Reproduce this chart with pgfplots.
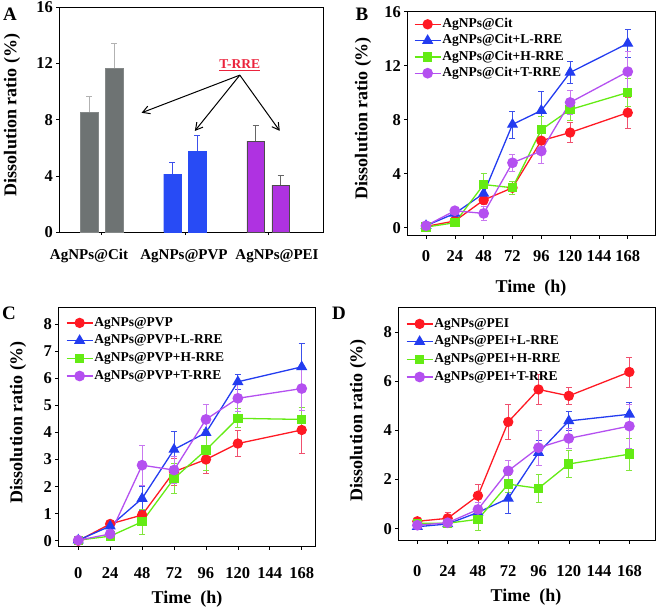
\documentclass[border=0pt]{standalone}
\usepackage{fontspec}
\setmainfont{Liberation Serif}
\usepackage{pgfplots}
\pgfplotsset{compat=1.18}
\usetikzlibrary{arrows.meta}

\newcommand\tfont{\fontsize{16.5}{16.5}\selectfont\bfseries}
\newcommand\cfont{\fontsize{15}{15}\selectfont\bfseries}
\newcommand\lfont{\fontsize{18}{18}\selectfont\bfseries}
\newcommand\gfont{\fontsize{13.5}{13.5}\selectfont\bfseries}
\newcommand\pfont{\fontsize{19}{19}\selectfont\bfseries}

\definecolor{cR}{RGB}{255,25,35}
\definecolor{cB}{RGB}{35,60,240}
\definecolor{cG}{RGB}{100,235,20}
\definecolor{cP}{RGB}{180,80,240}
\definecolor{eR}{RGB}{240,80,110}
\definecolor{eB}{RGB}{60,80,235}
\definecolor{eG}{RGB}{130,230,60}
\definecolor{eP}{RGB}{200,120,240}
\definecolor{barGray}{RGB}{110,115,115}
\definecolor{barBlue}{RGB}{40,75,245}
\definecolor{barMag}{RGB}{175,50,225}
\definecolor{rreRed}{RGB}{235,35,60}

\pgfplotsset{
  panel/.style={scale only axis, axis line style={line width=0.9pt},
    tick align=outside, xtick pos=bottom, ytick pos=left,
    major tick length=3pt, tick style={black, line width=0.6pt},
    ticklabel style={font=\tfont},
    /pgf/number format/assume math mode=true,
    xticklabel style={yshift=-8pt},
    legend cell align=left,
    legend style={draw=none, fill=none, font=\gfont, inner sep=0pt,
      row sep=1.5pt, nodes={inner sep=1pt, text height=9.5pt, text depth=3.3pt}},
    legend image code/.code={\draw[mark repeat=2,mark phase=2,##1] plot coordinates {(0pt,0pt) (13pt,0pt) (26pt,0pt)};},
  },
  timeax/.style={xmin=-15.5, xtick={0,24,48,72,96,120,144,168}},
  eb/.style={error bars/.cd, y dir=both, y explicit,
    error bar style={line width=0.8pt, #1},
    error mark options={rotate=90, mark size=3pt, line width=0.8pt, #1}},
  sR/.style={cR, line width=1.3pt, mark=*, mark size=4.5pt, mark options={solid, fill=cR}, eb=eR},
  sB/.style={cB, line width=1.3pt, mark=triangle*, mark size=5.2pt, mark options={solid, fill=cB}, eb=eB},
  sG/.style={cG, line width=1.3pt, mark=square*, mark size=4pt, mark options={solid, fill=cG}, eb=eG},
  sP/.style={cP, line width=1.3pt, mark=*, mark size=4.7pt, mark options={solid, fill=cP}, eb=eP},
}

\begin{document}
\begin{tikzpicture}
\useasboundingbox (0pt,0pt) rectangle (661pt,-614pt);

% ---------------- Panel A ----------------
\begin{axis}[panel, at={(59.3pt,-7.3pt)}, anchor=north west,
  width=263.7pt, height=224.7pt,
  xmin=-0.51, xmax=2.66, ymin=0, ymax=16,
  ytick={0,4,8,12,16}, xtick={0,1,2},
  xticklabels={},
  ybar, bar width=0.21, bar shift=0pt, clip=false]
\addplot[fill=barGray, draw=barGray!85!white, error bars/.cd, y dir=plus, y explicit,
  error bar style={line width=0.8pt, gray!60}, error mark options={rotate=90, mark size=3pt, line width=0.8pt, gray!60}]
  coordinates {(-0.15,8.53) +- (0,1.14) (0.15,11.66) +- (0,1.78)};
\addplot[fill=barBlue, draw=barBlue, error bars/.cd, y dir=plus, y explicit,
  error bar style={line width=0.8pt, eB}, error mark options={rotate=90, mark size=3pt, line width=0.8pt, eB}]
  coordinates {(0.85,4.12) +- (0,0.81) (1.15,5.74) +- (0,1.13)};
\addplot[fill=barMag, draw=black!70, error bars/.cd, y dir=plus, y explicit,
  error bar style={line width=0.8pt, black!60}, error mark options={rotate=90, mark size=3pt, line width=0.8pt, black!60}]
  coordinates {(1.85,6.47) +- (0,1.12) (2.15,3.34) +- (0,0.69)};
\node[text=rreRed, font=\gfont] at (axis cs:1.66,11.9) {\underline{T-RRE}};
\draw[-{Straight Barb[length=7pt,width=8pt]}, line width=1pt] (axis cs:1.66,11.17) -- (axis cs:0.48,8.49);
\draw[-{Straight Barb[length=7pt,width=8pt]}, line width=1pt] (axis cs:1.66,11.17) -- (axis cs:1.12,7.2);
\draw[-{Straight Barb[length=7pt,width=8pt]}, line width=1pt] (axis cs:1.66,11.17) -- (axis cs:2.14,7.2);
\end{axis}
\node[font=\cfont] at (89pt,-256pt) {AgNPs@Cit};
\node[font=\cfont] at (184pt,-256pt) {AgNPs@PVP};
\node[font=\cfont] at (277pt,-256pt) {AgNPs@PEI};

% ---------------- Panel B ----------------
\begin{axis}[panel, timeax, at={(407.3pt,-11.7pt)}, anchor=north west,
  width=247.7pt, height=224pt,
  xmin=-15.6, xmax=190.7, ymin=-0.59, ymax=16, ytick={0,4,8,12,16},
  legend style={at={(0,1)}, anchor=north west, xshift=6.5pt, yshift=-5pt}]
\addplot[sR] coordinates {(0,0.1) +- (0,0.15) (24,0.5) +- (0,0.15) (48,2.05) +- (0,0.3) (72,2.96) +- (0,0.5) (96,6.45) +- (0,0.5) (120,7.05) +- (0,0.75) (168,8.52) +- (0,1.15)};
\addlegendentry{AgNPs@Cit}
\addplot[sB] coordinates {(0,0.15) +- (0,0.15) (24,1.06) +- (0,0.2) (48,2.54) +- (0,0.4) (72,7.65) +- (0,1.0) (96,8.68) +- (0,1.4) (120,11.5) +- (0,0.8) (168,13.65) +- (0,1.05)};
\addlegendentry{AgNPs@Cit+L-RRE}
\addplot[sG] coordinates {(0,0.05) +- (0,0.1) (24,0.37) +- (0,0.15) (48,3.2) +- (0,0.8) (72,2.96) +- (0,0.5) (96,7.26) +- (0,1.0) (120,8.75) +- (0,0.8) (168,10.02) +- (0,1.05)};
\addlegendentry{AgNPs@Cit+H-RRE}
\addplot[sP] coordinates {(0,0.15) +- (0,0.15) (24,1.26) +- (0,0.2) (48,1.06) +- (0,0.5) (72,4.81) +- (0,0.65) (96,5.68) +- (0,0.95) (120,9.28) +- (0,0.9) (168,11.56) +- (0,1.5)};
\addlegendentry{AgNPs@Cit+T-RRE}
\end{axis}

% ---------------- Panel C ----------------
\begin{axis}[panel, timeax, at={(58.3pt,-307.3pt)}, anchor=north west,
  width=256.7pt, height=239.4pt,
  xmin=-15, xmax=178, ymin=-0.22, ymax=8.62, ytick={0,1,2,3,4,5,6,7,8},
  xticklabel style={yshift=-6pt},
  legend style={at={(0,1)}, anchor=north west, xshift=7.5pt, yshift=-8pt, row sep=2.9pt}]
\addplot[sR] coordinates {(0,0) +- (0,0.05) (24,0.62) +- (0,0.1) (48,0.95) +- (0,0.15) (72,2.55) +- (0,0.5) (96,3.0) +- (0,0.5) (120,3.59) +- (0,0.47) (168,4.09) +- (0,0.85)};
\addlegendentry{AgNPs@PVP}
\addplot[sB] coordinates {(0,0.02) +- (0,0.05) (24,0.54) +- (0,0.1) (48,1.56) +- (0,0.45) (72,3.37) +- (0,0.68) (96,3.99) +- (0,0.6) (120,5.87) +- (0,0.27) (168,6.42) +- (0,0.86)};
\addlegendentry{AgNPs@PVP+L-RRE}
\addplot[sG] coordinates {(0,0.02) +- (0,0.1) (24,0.17) +- (0,0.1) (48,0.7) +- (0,0.47) (72,2.3) +- (0,0.55) (96,3.35) +- (0,0.75) (120,4.52) +- (0,0.35) (168,4.48) +- (0,0.45)};
\addlegendentry{AgNPs@PVP+H-RRE}
\addplot[sP] coordinates {(0,0.02) +- (0,0.05) (24,0.25) +- (0,0.1) (48,2.79) +- (0,0.74) (72,2.61) +- (0,0.5) (96,4.48) +- (0,0.55) (120,5.26) +- (0,0.5) (168,5.62) +- (0,0.8)};
\addlegendentry{AgNPs@PVP+T-RRE}
\end{axis}

% ---------------- Panel D ----------------
\begin{axis}[panel, timeax, at={(398.3pt,-307.3pt)}, anchor=north west,
  width=256.7pt, height=233.4pt,
  xmin=-15.1, xmax=188.3, ymin=-0.49, ymax=9, ytick={0,2,4,6,8},
  xticklabel style={yshift=-10pt},
  legend style={at={(0,1)}, anchor=north west, xshift=7.5pt, yshift=-9pt, row sep=2.9pt}]
\addplot[sR] coordinates {(0,0.3) +- (0,0.1) (24,0.42) +- (0,0.25) (48,1.34) +- (0,0.45) (72,4.34) +- (0,0.7) (96,5.66) +- (0,0.6) (120,5.4) +- (0,0.34) (168,6.37) +- (0,0.61)};
\addlegendentry{AgNPs@PEI}
\addplot[sB] coordinates {(0,0.08) +- (0,0.1) (24,0.19) +- (0,0.1) (48,0.66) +- (0,0.3) (72,1.23) +- (0,0.6) (96,3.09) +- (0,0.5) (120,4.38) +- (0,0.4) (168,4.65) +- (0,0.5)};
\addlegendentry{AgNPs@PEI+L-RRE}
\addplot[sG] coordinates {(0,0.22) +- (0,0.1) (24,0.22) +- (0,0.1) (48,0.38) +- (0,0.45) (72,1.81) +- (0,0.35) (96,1.64) +- (0,0.57) (120,2.63) +- (0,0.55) (168,3.03) +- (0,0.65)};
\addlegendentry{AgNPs@PEI+H-RRE}
\addplot[sP] coordinates {(0,0.14) +- (0,0.1) (24,0.24) +- (0,0.1) (48,0.78) +- (0,0.3) (72,2.35) +- (0,0.42) (96,3.29) +- (0,0.7) (120,3.67) +- (0,0.4) (168,4.17) +- (0,0.9)};
\addlegendentry{AgNPs@PEI+T-RRE}
\end{axis}

% ---------------- labels ----------------
\node[font=\pfont] at (10pt,-14pt) {A};
\node[font=\pfont] at (362pt,-14pt) {B};
\node[font=\pfont] at (9pt,-313pt) {C};
\node[font=\pfont] at (339pt,-313pt) {D};
\node[font=\lfont, rotate=90] at (12pt,-115pt) {Dissolution ratio (\%)};
\node[font=\lfont, rotate=90] at (363pt,-118pt) {Dissolution ratio (\%)};
\node[font=\lfont, rotate=90] at (18pt,-422pt) {Dissolution ratio (\%)};
\node[font=\lfont, rotate=90] at (358pt,-420pt) {Dissolution ratio (\%)};
\node[font=\lfont] at (531pt,-288pt) {Time\ \ (h)};
\node[font=\lfont] at (187pt,-599pt) {Time\ \ (h)};
\node[font=\lfont] at (526pt,-597pt) {Time\ \ (h)};
\end{tikzpicture}
\end{document}
